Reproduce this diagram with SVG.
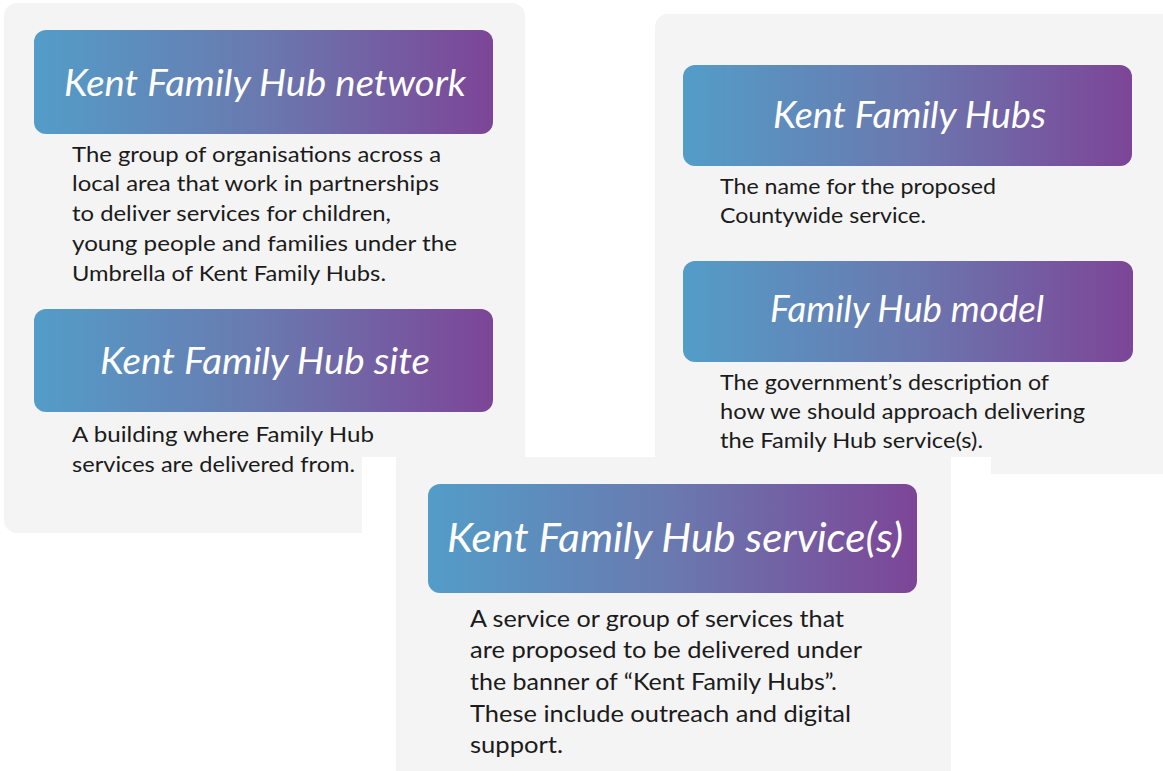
<svg xmlns="http://www.w3.org/2000/svg" width="1163" height="771" viewBox="0 0 1163 771">
<style>
.panel{fill:#f4f4f4}
.title{font-family:Lato,"Open Sans","DejaVu Sans",sans-serif;font-style:italic;font-weight:400;fill:#ffffff}
.body{font-family:Lato,"Open Sans","Liberation Sans",sans-serif;font-size:22px;fill:#1b1b1b}
.body2{font-family:Lato,"Open Sans","Liberation Sans",sans-serif;font-size:24px;fill:#1b1b1b}
</style>
<defs>
<linearGradient id="grad" x1="0" y1="0" x2="1" y2="0">
<stop offset="0" stop-color="#539dc8"/>
<stop offset="0.5" stop-color="#6a79af"/>
<stop offset="1" stop-color="#7d4597"/>
</linearGradient>
</defs>
<rect width="1163" height="771" fill="#ffffff"/>
<rect class="panel" x="4" y="3" width="521" height="530" rx="13"/>
<rect class="panel" x="655" y="14" width="520" height="460" rx="13"/>
<rect x="362" y="457" width="629" height="314" fill="#ffffff"/>
<rect class="panel" x="396" y="457" width="555" height="314"/>
<g id="connectors"/>
<g id="node-network">
<rect x="34" y="30" width="459" height="104" rx="12" fill="url(#grad)"/>
<text class="title" x="64" y="96" font-size="37" textLength="402" lengthAdjust="spacingAndGlyphs">Kent Family Hub network</text>
<text class="body" x="72" y="162" textLength="369" lengthAdjust="spacingAndGlyphs">The group of organisations across a</text>
<text class="body" x="72" y="191" textLength="367" lengthAdjust="spacingAndGlyphs">local area that work in partnerships</text>
<text class="body" x="72" y="221" textLength="319" lengthAdjust="spacingAndGlyphs">to deliver services for children,</text>
<text class="body" x="72" y="251" textLength="385" lengthAdjust="spacingAndGlyphs">young people and families under the</text>
<text class="body" x="72" y="281" textLength="314" lengthAdjust="spacingAndGlyphs">Umbrella of Kent Family Hubs.</text>
</g>
<g id="node-site">
<rect x="34" y="309" width="459" height="103" rx="12" fill="url(#grad)"/>
<text class="title" x="100" y="374" font-size="37" textLength="330" lengthAdjust="spacingAndGlyphs">Kent Family Hub site</text>
<text class="body" x="72" y="442" textLength="302" lengthAdjust="spacingAndGlyphs">A building where Family Hub</text>
<text class="body" x="72" y="472" textLength="283" lengthAdjust="spacingAndGlyphs">services are delivered from.</text>
</g>
<g id="node-hubs">
<rect x="683" y="65" width="449" height="101" rx="12" fill="url(#grad)"/>
<text class="title" x="773" y="128" font-size="36" textLength="273" lengthAdjust="spacingAndGlyphs">Kent Family Hubs</text>
<text class="body" x="720" y="194" textLength="276" lengthAdjust="spacingAndGlyphs">The name for the proposed</text>
<text class="body" x="720" y="223" textLength="206" lengthAdjust="spacingAndGlyphs">Countywide service.</text>
</g>
<g id="node-model">
<rect x="683" y="261" width="450" height="101" rx="12" fill="url(#grad)"/>
<text class="title" x="770" y="322" font-size="36" textLength="274" lengthAdjust="spacingAndGlyphs">Family Hub model</text>
<text class="body" x="720" y="390" textLength="329" lengthAdjust="spacingAndGlyphs">The government’s description of</text>
<text class="body" x="720" y="419" textLength="365" lengthAdjust="spacingAndGlyphs">how we should approach delivering</text>
<text class="body" x="720" y="448" textLength="263" lengthAdjust="spacingAndGlyphs">the Family Hub service(s).</text>
</g>
<g id="node-services">
<rect x="428" y="484" width="489" height="109" rx="12" fill="url(#grad)"/>
<text class="title" x="447" y="552" font-size="40" textLength="456" lengthAdjust="spacingAndGlyphs">Kent Family Hub service(s)</text>
<text class="body2" x="470" y="627" textLength="374" lengthAdjust="spacingAndGlyphs">A service or group of services that</text>
<text class="body2" x="470" y="658" textLength="392" lengthAdjust="spacingAndGlyphs">are proposed to be delivered under</text>
<text class="body2" x="470" y="690" textLength="367" lengthAdjust="spacingAndGlyphs">the banner of “Kent Family Hubs”.</text>
<text class="body2" x="470" y="722" textLength="381" lengthAdjust="spacingAndGlyphs">These include outreach and digital</text>
<text class="body2" x="470" y="753" textLength="93" lengthAdjust="spacingAndGlyphs">support.</text>
</g>
</svg>
